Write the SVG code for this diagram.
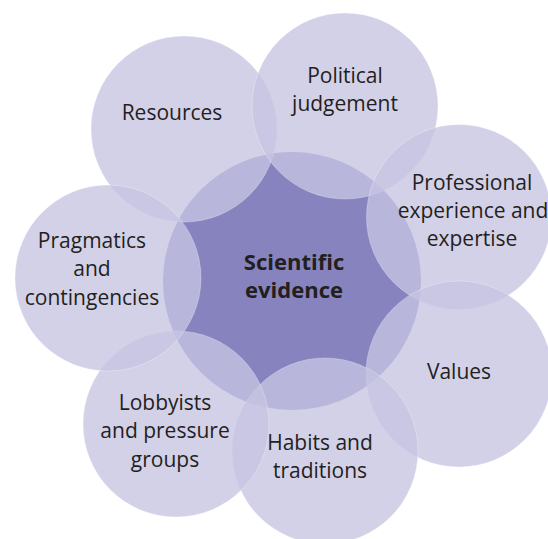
<svg xmlns="http://www.w3.org/2000/svg" width="548" height="539" viewBox="0 0 548 539">
<style>
.outer{fill:#c6c4e2;fill-opacity:0.78;stroke:#ffffff;stroke-opacity:0.35;stroke-width:0.8}
.core{fill:#8683bf}
.lbl{font-family:"Open Sans","Noto Sans","Liberation Sans",sans-serif;font-size:21px;fill:#231f20;text-anchor:middle}
.bold{font-weight:bold;font-size:22px}
</style>
<rect width="548" height="539" fill="#ffffff"/>
<g id="scientific-evidence">
<circle class="core" cx="292" cy="281" r="129"/>
<text class="lbl bold" x="294" y="270">Scientific</text>
<text class="lbl bold" x="294" y="298">evidence</text>
</g>
<g id="resources">
<circle class="outer" cx="184" cy="129" r="93"/>
<text class="lbl" x="172" y="120">Resources</text>
</g>
<g id="political-judgement">
<circle class="outer" cx="345" cy="106" r="93"/>
<text class="lbl" x="345" y="83">Political</text>
<text class="lbl" x="345" y="111">judgement</text>
</g>
<g id="professional-experience">
<circle class="outer" cx="459" cy="217" r="92.5"/>
<text class="lbl" x="472" y="190">Professional</text>
<text class="lbl" x="473" y="218">experience and</text>
<text class="lbl" x="472" y="246">expertise</text>
</g>
<g id="values">
<circle class="outer" cx="459" cy="374" r="93"/>
<text class="lbl" x="459" y="379">Values</text>
</g>
<g id="habits-traditions">
<circle class="outer" cx="325" cy="451" r="93"/>
<text class="lbl" x="320" y="450">Habits and</text>
<text class="lbl" x="320" y="478">traditions</text>
</g>
<g id="lobbyists">
<circle class="outer" cx="176" cy="424" r="93"/>
<text class="lbl" x="165" y="410">Lobbyists</text>
<text class="lbl" x="165" y="438">and pressure</text>
<text class="lbl" x="165" y="467">groups</text>
</g>
<g id="pragmatics">
<circle class="outer" cx="108" cy="278" r="93"/>
<text class="lbl" x="92" y="248">Pragmatics</text>
<text class="lbl" x="92" y="276">and</text>
<text class="lbl" x="92" y="305">contingencies</text>
</g>
<g id="connectors"/>
</svg>
